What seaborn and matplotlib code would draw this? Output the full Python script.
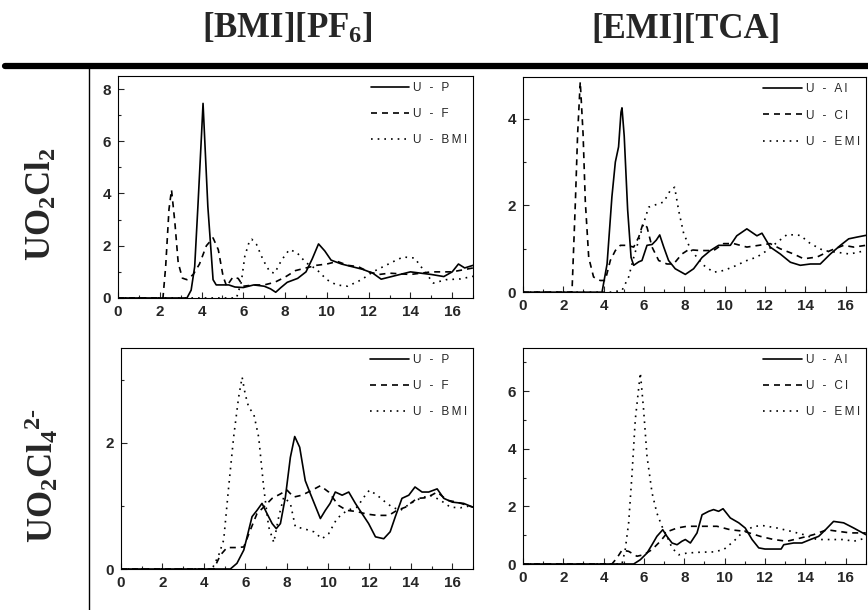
import seaborn as sns
import matplotlib.pyplot as plt
from matplotlib.lines import Line2D
from matplotlib.ticker import MultipleLocator

# 数据: 径向分布函数 g(r), 四个面板
# [BMI][PF6] + UO2Cl2
tl_p_x = [0, 3.3, 3.5, 3.67, 3.83, 4.0, 4.07, 4.3, 4.55, 4.7, 5.0, 5.3, 5.6, 6.0, 6.5, 7.0, 7.3, 7.55, 7.8, 8.1, 8.6, 9.0, 9.3, 9.6, 9.9, 10.2, 10.7, 11.2, 11.7, 12.2, 12.6, 13.0, 13.5, 14.0, 14.5, 15.0, 15.6, 16.0, 16.3, 16.6, 17.0]
tl_p_y = [0, 0, 0.3, 1.2, 3.6, 6.3, 7.45, 3.5, 0.7, 0.5, 0.5, 0.5, 0.42, 0.4, 0.5, 0.45, 0.35, 0.22, 0.4, 0.6, 0.75, 1.0, 1.5, 2.07, 1.8, 1.45, 1.3, 1.2, 1.1, 0.95, 0.72, 0.8, 0.9, 1.0, 0.95, 0.9, 0.82, 1.0, 1.3, 1.15, 1.25]
tl_f_x = [0, 2.15, 2.28, 2.44, 2.56, 2.72, 2.88, 3.08, 3.3, 3.6, 3.9, 4.23, 4.55, 4.8, 5.03, 5.2, 5.5, 5.75, 6.0, 6.5, 7.0, 7.5, 8.0, 8.5, 9.0, 9.5, 10.0, 10.5, 11.0, 11.5, 12.0, 12.5, 13.0, 14.0, 15.0, 16.0, 17.0]
tl_f_y = [0, 0, 1.2, 3.4, 4.14, 2.9, 1.35, 0.76, 0.7, 0.9, 1.3, 2.0, 2.3, 1.85, 0.83, 0.45, 0.8, 0.75, 0.45, 0.5, 0.5, 0.6, 0.8, 1.05, 1.15, 1.25, 1.3, 1.4, 1.25, 1.2, 1.0, 0.9, 0.95, 0.9, 1.0, 1.0, 1.15]
tl_c_x = [0, 5.67, 5.9, 6.07, 6.3, 6.4, 6.63, 6.95, 7.27, 7.5, 7.83, 8.2, 8.55, 9.0, 9.5, 10.0, 10.46, 11.0, 11.66, 12.2, 12.7, 13.2, 13.65, 14.2, 14.6, 15.1, 15.7, 16.4, 17.0]
tl_c_y = [0, 0, 0.6, 1.6, 2.2, 2.25, 2.05, 1.45, 1.0, 0.95, 1.45, 1.85, 1.75, 1.35, 1.1, 0.7, 0.5, 0.45, 0.7, 1.0, 1.2, 1.4, 1.57, 1.53, 1.1, 0.57, 0.7, 0.73, 0.83]

# [EMI][TCA] + UO2Cl2
tr_a_x = [0, 3.92, 4.17, 4.41, 4.58, 4.74, 4.86, 4.91, 5.02, 5.19, 5.36, 5.49, 5.74, 5.9, 6.15, 6.4, 6.61, 6.78, 6.98, 7.22, 7.55, 8.05, 8.46, 8.88, 9.29, 9.7, 10.28, 10.6, 11.1, 11.6, 11.85, 12.26, 12.76, 13.26, 13.75, 14.25, 14.74, 15.24, 15.74, 16.15, 16.56, 17.0]
tr_a_y = [0, 0, 0.65, 2.2, 3.0, 3.35, 4.15, 4.25, 3.6, 1.9, 0.8, 0.62, 0.7, 0.73, 1.08, 1.1, 1.2, 1.32, 1.04, 0.73, 0.54, 0.41, 0.54, 0.8, 0.96, 1.08, 1.08, 1.3, 1.46, 1.3, 1.36, 1.04, 0.88, 0.69, 0.62, 0.65, 0.65, 0.88, 1.08, 1.23, 1.27, 1.31]
tr_c_x = [0, 2.43, 2.6, 2.71, 2.84, 2.98, 3.09, 3.26, 3.5, 3.83, 4.08, 4.33, 4.58, 4.83, 5.16, 5.49, 5.74, 5.95, 6.15, 6.4, 6.73, 7.14, 7.47, 7.88, 8.21, 8.79, 9.45, 9.95, 10.45, 11.1, 11.69, 12.26, 12.76, 13.42, 13.92, 14.58, 15.24, 15.9, 16.4, 17.0]
tr_c_y = [0, 0, 2.1, 3.65, 4.85, 3.65, 2.1, 0.8, 0.35, 0.27, 0.27, 0.73, 0.96, 1.08, 1.08, 1.04, 1.27, 1.58, 1.5, 1.04, 0.73, 0.65, 0.65, 0.88, 0.98, 0.96, 0.96, 1.12, 1.12, 1.04, 1.08, 1.12, 1.0, 0.88, 0.77, 0.81, 0.96, 1.08, 1.04, 1.08]
tr_e_x = [0, 4.33, 4.91, 5.24, 5.49, 5.74, 5.98, 6.23, 6.48, 6.98, 7.31, 7.52, 7.72, 7.97, 8.3, 8.63, 8.96, 9.45, 9.95, 10.45, 11.1, 11.6, 12.1, 12.6, 13.1, 13.75, 14.25, 14.9, 15.57, 16.2, 17.0]
tr_e_y = [0, 0, 0.04, 0.35, 0.8, 1.2, 1.58, 1.96, 2.0, 2.08, 2.35, 2.42, 1.88, 1.35, 1.0, 0.8, 0.62, 0.46, 0.5, 0.59, 0.73, 0.81, 0.96, 1.15, 1.33, 1.31, 1.12, 0.96, 0.92, 0.88, 0.96]

# [BMI][PF6] + UO2Cl4 2-
bl_p_x = [0, 5.28, 5.6, 5.93, 6.09, 6.33, 6.57, 6.81, 7.05, 7.3, 7.5, 7.7, 7.94, 8.18, 8.39, 8.63, 8.9, 9.15, 9.47, 9.63, 9.87, 10.1, 10.35, 10.68, 11.0, 11.32, 11.64, 11.96, 12.29, 12.69, 13.0, 13.25, 13.57, 13.9, 14.2, 14.54, 14.86, 15.27, 15.59, 16.0, 16.55, 17.0]
bl_p_y = [0, 0, 0.09, 0.3, 0.51, 0.83, 0.93, 1.04, 0.88, 0.72, 0.64, 0.72, 1.14, 1.77, 2.1, 1.93, 1.4, 1.19, 0.93, 0.8, 0.93, 1.04, 1.22, 1.17, 1.22, 1.04, 0.88, 0.72, 0.51, 0.48, 0.59, 0.83, 1.12, 1.17, 1.3, 1.22, 1.22, 1.27, 1.12, 1.06, 1.04, 0.98]
bl_f_x = [0, 4.48, 4.8, 5.12, 5.6, 5.93, 6.25, 6.57, 6.89, 7.3, 7.7, 8.02, 8.34, 8.74, 9.23, 9.63, 10.03, 10.5, 10.9, 11.4, 11.88, 12.37, 12.93, 13.33, 13.74, 14.3, 14.78, 15.27, 15.75, 16.23, 17.0]
bl_f_y = [0, 0, 0.22, 0.34, 0.34, 0.35, 0.62, 0.88, 0.98, 1.12, 1.19, 1.25, 1.14, 1.17, 1.25, 1.32, 1.22, 1.01, 0.93, 0.91, 0.87, 0.85, 0.85, 0.93, 0.98, 1.12, 1.13, 1.22, 1.09, 1.06, 0.98]
bl_c_x = [0, 4.4, 4.72, 4.96, 5.2, 5.44, 5.68, 5.85, 6.0, 6.17, 6.41, 6.65, 6.89, 7.13, 7.38, 7.62, 7.86, 8.18, 8.42, 8.82, 9.31, 9.71, 10.03, 10.43, 10.92, 11.4, 11.8, 12.0, 12.37, 12.77, 13.1, 13.5, 13.98, 14.46, 14.94, 15.43, 15.91, 16.39, 17.0]
bl_c_y = [0, 0, 0.22, 0.46, 1.3, 2.09, 2.72, 3.04, 2.77, 2.56, 2.46, 2.09, 1.3, 0.67, 0.42, 0.83, 1.14, 1.04, 0.67, 0.64, 0.59, 0.48, 0.56, 0.8, 0.93, 0.98, 1.17, 1.25, 1.17, 1.06, 0.98, 0.93, 1.04, 1.12, 1.17, 1.09, 0.98, 0.97, 1.01]

# [EMI][TCA] + UO2Cl4 2-
br_a_x = [0, 5.49, 5.82, 6.15, 6.4, 6.64, 6.93, 7.14, 7.39, 7.64, 7.88, 8.05, 8.3, 8.63, 8.88, 9.21, 9.45, 9.7, 9.92, 10.28, 10.7, 11.02, 11.36, 11.69, 12.0, 12.8, 12.93, 13.42, 13.83, 14.25, 14.66, 15.0, 15.4, 15.9, 16.4, 17.0]
br_a_y = [0, 0, 0.15, 0.38, 0.67, 0.96, 1.19, 0.96, 0.73, 0.67, 0.79, 0.85, 0.73, 1.08, 1.71, 1.83, 1.89, 1.83, 1.92, 1.6, 1.43, 1.25, 0.85, 0.56, 0.52, 0.52, 0.67, 0.73, 0.73, 0.85, 0.96, 1.19, 1.48, 1.43, 1.25, 1.02]
br_c_x = [0, 4.41, 4.66, 4.91, 5.24, 5.65, 5.98, 6.4, 6.81, 7.22, 7.64, 8.13, 8.79, 9.62, 10.28, 10.94, 11.77, 12.43, 13.09, 13.75, 14.41, 15.07, 15.57, 16.23, 17.0]
br_c_y = [0, 0, 0.21, 0.48, 0.44, 0.27, 0.32, 0.5, 0.79, 1.14, 1.25, 1.31, 1.31, 1.31, 1.19, 1.14, 0.96, 0.85, 0.79, 0.9, 1.02, 1.19, 1.14, 1.08, 1.08]
br_e_x = [0, 4.91, 5.07, 5.24, 5.4, 5.57, 5.82, 5.98, 6.15, 6.4, 6.64, 6.89, 7.14, 7.39, 7.72, 8.13, 8.79, 9.45, 9.95, 10.45, 10.86, 11.44, 11.93, 12.6, 13.26, 13.92, 14.58, 15.24, 15.9, 16.4, 17.0]
br_e_y = [0, 0, 0.5, 1.43, 3.05, 5.02, 6.64, 5.37, 3.74, 2.47, 1.77, 1.31, 0.96, 0.56, 0.32, 0.38, 0.41, 0.42, 0.5, 0.79, 1.08, 1.31, 1.33, 1.25, 1.14, 1.02, 0.85, 0.85, 0.85, 0.79, 0.9]

col_titles = ['[BMI][PF$_6$]', '[EMI][TCA]']
row_titles = ['UO$_2$Cl$_2$', 'UO$_2$Cl$_4$$^{2\\text{-}}$']
labels_bmi = ['U - P', 'U - F', 'U - BMI']
labels_emi = ['U - Al', 'U - Cl', 'U - EMI']

sns.set_style("ticks")
plt.rcParams['font.family'] = ['Liberation Sans', 'DejaVu Sans']
plt.rcParams['mathtext.fontset'] = 'custom'
plt.rcParams['mathtext.rm'] = 'Liberation Serif:bold'
plt.rcParams['mathtext.it'] = 'Liberation Serif:bold'
plt.rcParams['mathtext.bf'] = 'Liberation Serif:bold'

fig = plt.figure(figsize=(8.68, 6.10), dpi=100)

# 面板位置 (figure 比例)
panels = [
    ([0.136, 0.5115, 0.409, 0.364], 8.5, [(tl_p_x, tl_p_y), (tl_f_x, tl_f_y), (tl_c_x, tl_c_y)], labels_bmi),
    ([0.6025, 0.521, 0.395, 0.352], 4.95, [(tr_a_x, tr_a_y), (tr_c_x, tr_c_y), (tr_e_x, tr_e_y)], labels_emi),
    ([0.1394, 0.0672, 0.4055, 0.362], 3.5, [(bl_p_x, bl_p_y), (bl_f_x, bl_f_y), (bl_c_x, bl_c_y)], labels_bmi),
    ([0.6025, 0.0754, 0.395, 0.354], 7.5, [(br_a_x, br_a_y), (br_c_x, br_c_y), (br_e_x, br_e_y)], labels_emi),
]
styles = ['-', (0, (3.6, 3)), (0, (1, 3))]

for rect, ymax, series, labels in panels:
    ax = fig.add_axes(rect)
    for (xs, ys), ls, lab in zip(series, styles, labels):
        # 图例文字字母间距稍大, 用细空格
        sns.lineplot(x=xs, y=ys, ax=ax, color='black', linestyle=ls, linewidth=1.2,
                     label='\u2009'.join(lab), sort=False, estimator=None)
    ax.set_xlim(0, 17)
    ax.set_ylim(0, ymax)
    ax.xaxis.set_major_locator(MultipleLocator(2))
    ax.xaxis.set_minor_locator(MultipleLocator(1))
    ax.yaxis.set_major_locator(MultipleLocator(2))
    ax.yaxis.set_minor_locator(MultipleLocator(1))
    ax.tick_params(which='both', direction='in', top=False, right=False, width=0.8,
                   labelsize=11, pad=5)
    ax.tick_params(which='major', length=4)
    ax.tick_params(which='minor', length=2.5)
    for lbl in ax.get_xticklabels() + ax.get_yticklabels():
        lbl.set_fontweight('bold')
    for sp in ax.spines.values():
        sp.set_linewidth(0.8)
        sp.set_color('black')
    ax.set_xlabel('')
    ax.set_ylabel('')
    ax.legend(loc='upper right', frameon=False, fontsize=8.5, handlelength=3.3,
              handletextpad=0.3, labelspacing=1.2, borderaxespad=0.1)

# 标题与分隔线
for x, t in zip([0.331, 0.790], col_titles):
    fig.text(x, 0.952, t, ha='center', va='center', fontsize=25,
             fontfamily='Liberation Serif', fontweight='bold')
for y, t in zip([0.666, 0.22], row_titles):
    fig.text(0.048, y, t, ha='center', va='center', rotation=90, fontsize=25,
             fontfamily='Liberation Serif', fontweight='bold')

fig.add_artist(Line2D([0.006, 1.0], [0.892, 0.892], color='black', linewidth=4.5,
                      transform=fig.transFigure))
fig.add_artist(Line2D([0.1025, 0.1025], [0.0, 0.892], color='black', linewidth=1.0,
                      transform=fig.transFigure))

plt.savefig('out.png', dpi=100)
plt.close()
